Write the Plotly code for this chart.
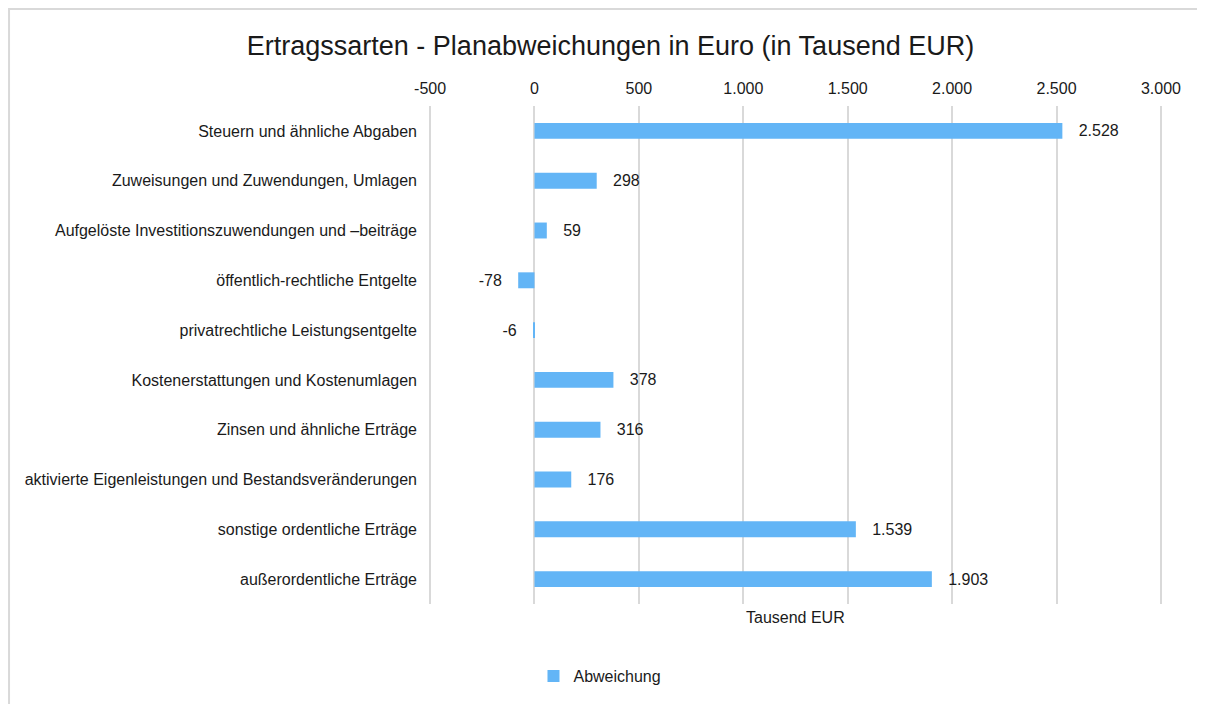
import plotly.graph_objects as go

categories = [
    "Steuern und ähnliche Abgaben",
    "Zuweisungen und Zuwendungen, Umlagen",
    "Aufgelöste Investitionszuwendungen und \u2013beiträge",
    "öffentlich-rechtliche Entgelte",
    "privatrechtliche Leistungsentgelte",
    "Kostenerstattungen und Kostenumlagen",
    "Zinsen und ähnliche Erträge",
    "aktivierte Eigenleistungen und Bestandsveränderungen",
    "sonstige ordentliche Erträge",
    "außerordentliche Erträge",
]
values = [2528, 298, 59, -78, -6, 378, 316, 176, 1539, 1903]
tick_vals = [-500, 0, 500, 1000, 1500, 2000, 2500, 3000]
tick_text = ["-500", "0", "500", "1.000", "1.500", "2.000", "2.500", "3.000"]


def fmt(v):
    s = f"{abs(v):,}".replace(",", ".")
    return ("-" if v < 0 else "") + s


pad = "\u00a0" * 3
labels = [(pad + fmt(v)) if v >= 0 else (fmt(v) + pad) for v in values]

FONT = "Liberation Sans, Arial, sans-serif"
TXT = "#1a1a1a"

fig = go.Figure()
fig.add_trace(go.Bar(
    y=categories,
    x=values,
    orientation="h",
    name="Abweichung",
    marker=dict(color="rgb(99,181,246)", line=dict(width=0)),
    width=0.32,
    text=labels,
    textposition="outside",
    constraintext="none",
    cliponaxis=False,
    textfont=dict(family=FONT, size=16, color=TXT),
))

fig.update_layout(
    width=1205,
    height=704,
    paper_bgcolor="white",
    plot_bgcolor="white",
    margin=dict(l=420, r=50, t=98, b=108),
    title=dict(
        text="Ertragssarten - Planabweichungen in Euro (in Tausend EUR)",
        x=0.5, xanchor="center", y=0.947, yanchor="middle",
        font=dict(family=FONT, size=27, color=TXT),
    ),
    font=dict(family=FONT, size=16, color=TXT),
    xaxis=dict(
        range=[-510, 3010],
        side="top",
        tickvals=tick_vals,
        ticktext=tick_text,
        showgrid=True,
        gridcolor="#d9d9d9",
        gridwidth=2,
        zeroline=False,
        showline=False,
        ticks="",
        ticklabelstandoff=8,
        tickfont=dict(family=FONT, size=16, color=TXT),
        fixedrange=True,
    ),
    yaxis=dict(
        autorange="reversed",
        showgrid=False,
        zeroline=False,
        showline=False,
        ticks="",
        ticklabelstandoff=10,
        tickfont=dict(family=FONT, size=16, color=TXT),
    ),
    showlegend=True,
    legend=dict(
        orientation="h",
        x=0.234, xanchor="center",
        y=-0.145, yanchor="middle",
        font=dict(family=FONT, size=16, color=TXT),
        itemwidth=30,
    ),
    annotations=[dict(
        text="Tausend EUR", xref="paper", yref="paper",
        x=0.5, y=-0.027, xanchor="center", yanchor="middle",
        showarrow=False, font=dict(family=FONT, size=16, color=TXT),
    )],
    shapes=[dict(
        type="rect", xref="paper", yref="paper",
        x0=-0.570, x1=1.2, y0=-0.3, y1=1.1947,
        line=dict(color="#d9d9d9", width=2), fillcolor="rgba(0,0,0,0)",
        layer="below",
    )],
)

fig.write_html("out.html")
